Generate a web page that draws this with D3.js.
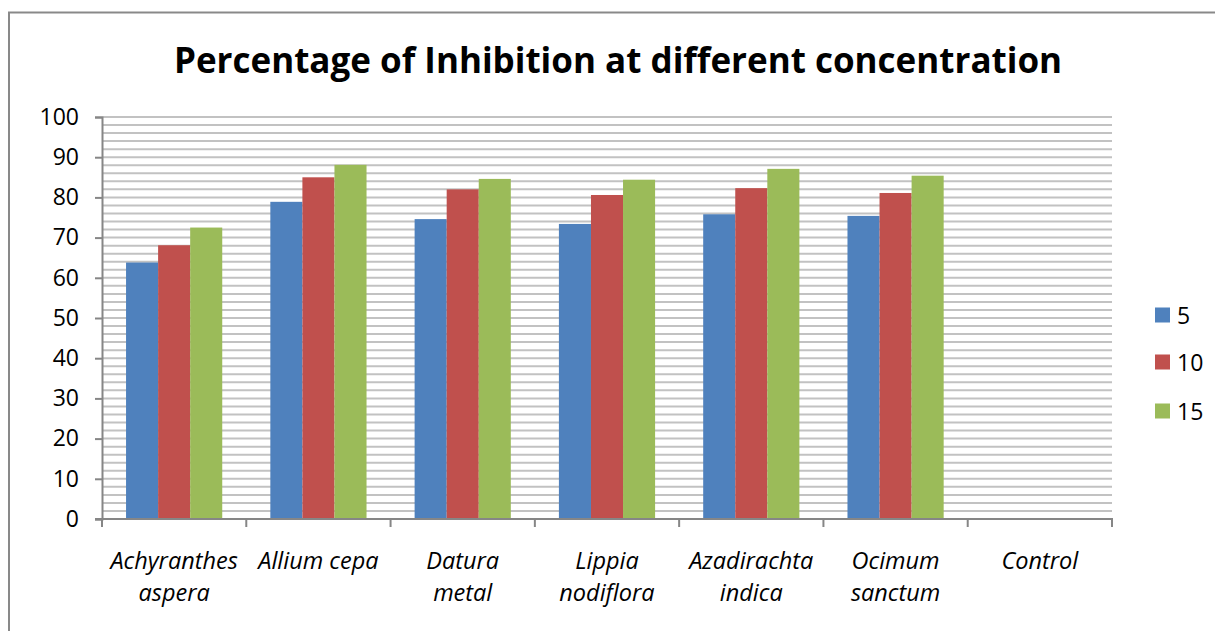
<!DOCTYPE html>
<html>
<head>
<meta charset="utf-8">
<script src="https://cdn.jsdelivr.net/npm/d3@7"></script>
<style>
  html, body { margin: 0; padding: 0; background: #fff; }
  svg { display: block; }
  text { font-family: "Open Sans", "Noto Sans", sans-serif; fill: #000; }
</style>
</head>
<body>
<svg id="chart" width="1215" height="631"></svg>
<script>
const categories = [
  ["Achyranthes", "aspera"],
  ["Allium cepa"],
  ["Datura", "metal"],
  ["Lippia", "nodiflora"],
  ["Azadirachta", "indica"],
  ["Ocimum", "sanctum"],
  ["Control"]
];
const seriesNames = ["5", "10", "15"];
const values5  = [63.8, 78.9, 74.6, 73.4, 75.8, 75.4, 0];
const values10 = [68.1, 85.0, 82.0, 80.6, 82.3, 81.1, 0];
const values15 = [72.5, 88.1, 84.6, 84.4, 87.1, 85.4, 0];
const colors = ["#4F81BD", "#C0504D", "#9BBB59"];
const yTicks = [0, 10, 20, 30, 40, 50, 60, 70, 80, 90, 100];
const title = "Percentage of Inhibition at different concentration";

(function () {
const seriesValues = [values5, values10, values15];
const catKeys = categories.map(c => c.join(" "));

const svg = d3.select("#chart");
const pLeft = 102, pRight = 1112, pTop = 117, pBottom = 519;

// outer frame
svg.append("path")
  .attr("d", `M9,640 L9,12.5 L1220,12.5`)
  .attr("fill", "none").attr("stroke", "#898989").attr("stroke-width", 2);

// title
svg.append("text")
  .attr("x", 618).attr("y", 73)
  .attr("text-anchor", "middle")
  .style("font-size", "35px").style("font-weight", "bold")
  .text(title);

const y = d3.scaleLinear().domain([0, 100]).range([pBottom, pTop]);
const x0 = d3.scaleBand().domain(catKeys).range([pLeft, pRight]).padding(0);
const x1 = d3.scaleBand().domain(seriesNames).range([0, x0.bandwidth()])
  .paddingInner(0).paddingOuter(0.75);

// gridlines every 2 units
svg.append("g").selectAll("line")
  .data(y.ticks(50).filter(v => v > 0))
  .join("line")
  .attr("x1", pLeft).attr("x2", pRight)
  .attr("y1", d => y(d)).attr("y2", d => y(d))
  .attr("stroke", "#c2c2c2").attr("stroke-width", 2);

// bars
const groups = svg.append("g").selectAll("g")
  .data(catKeys)
  .join("g")
  .attr("transform", d => `translate(${x0(d)},0)`);

groups.selectAll("rect")
  .data((d, i) => seriesNames.map((s, j) => ({ s, v: seriesValues[j][i], j })))
  .join("rect")
  .attr("x", d => x1(d.s))
  .attr("width", x1.bandwidth())
  .attr("y", d => y(d.v))
  .attr("height", d => y(0) - y(d.v))
  .attr("fill", d => colors[d.j]);

// y axis
const yAxis = svg.append("g")
  .attr("transform", `translate(${pLeft},0)`)
  .call(d3.axisLeft(y).tickValues(yTicks).tickSize(7).tickPadding(16));
yAxis.select(".domain").attr("stroke", "#868686").attr("stroke-width", 2);
yAxis.selectAll(".tick line").attr("stroke", "#868686").attr("stroke-width", 2);
yAxis.selectAll(".tick text")
  .style("font-size", "23px")
  .style("font-family", "'Open Sans', sans-serif")
  .attr("fill", "#000");

// x axis
const xAxisG = svg.append("g");
xAxisG.append("line")
  .attr("x1", pLeft - 7).attr("x2", pRight + 1)
  .attr("y1", pBottom).attr("y2", pBottom)
  .attr("stroke", "#868686").attr("stroke-width", 2);
const bounds = catKeys.map(k => x0(k)).concat([x0.range()[1]]);
xAxisG.selectAll("line.tk")
  .data(bounds)
  .join("line").attr("class", "tk")
  .attr("x1", d => d).attr("x2", d => d)
  .attr("y1", pBottom).attr("y2", pBottom + 8)
  .attr("stroke", "#868686").attr("stroke-width", 2);

// x labels
const labels = svg.append("g").selectAll("text")
  .data(categories)
  .join("text")
  .attr("x", (d, i) => x0(catKeys[i]) + x0.bandwidth() / 2)
  .attr("y", 569)
  .attr("text-anchor", "middle")
  .style("font-size", "23.5px").style("font-style", "italic");
labels.selectAll("tspan")
  .data(d => d)
  .join("tspan")
  .attr("x", function () { return d3.select(this.parentNode).attr("x"); })
  .attr("dy", (d, i) => i === 0 ? 0 : 32)
  .text(d => d);

// legend
const legendY = [315, 362, 411];
const legend = svg.append("g").selectAll("g")
  .data(seriesNames)
  .join("g")
  .attr("transform", (d, i) => `translate(1155,${legendY[i]})`);
legend.append("rect")
  .attr("x", 0).attr("y", -7.5).attr("width", 15).attr("height", 15)
  .attr("fill", (d, i) => colors[i]);
legend.append("text")
  .attr("x", 22).attr("y", 8.5)
  .style("font-size", "23px")
  .text(d => d);
})();
</script>
</body>
</html>
